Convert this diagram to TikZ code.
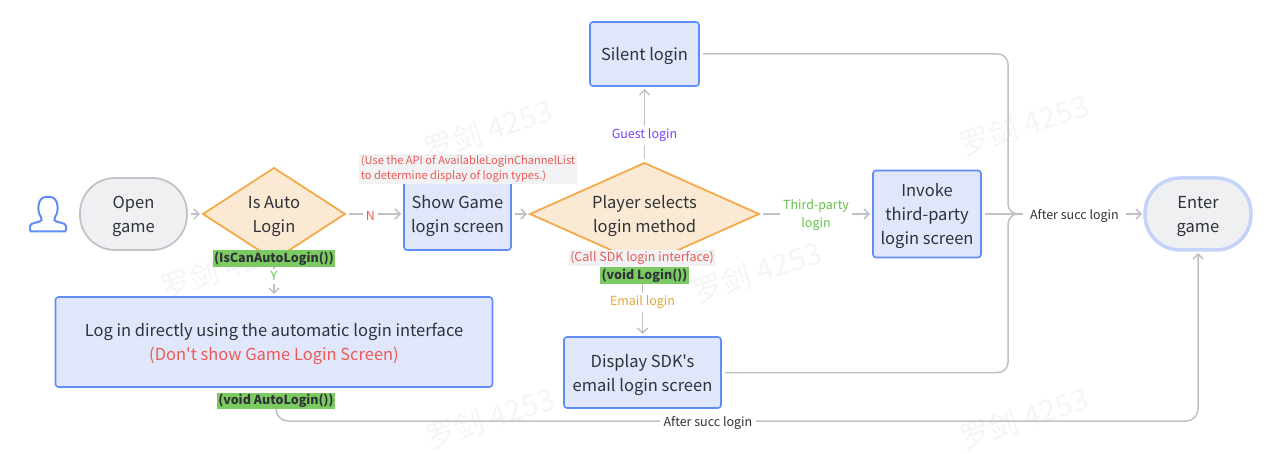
\documentclass[tikz,border=0pt]{standalone}
\usepackage{xcolor}
\usepackage{fontspec}
\setmainfont[Ligatures=TeXOff]{Noto Sans CJK SC}
\usepackage{tikz}
\usetikzlibrary{shapes.geometric, arrows.meta, positioning}

\definecolor{boxfill}{HTML}{E1E7FB}
\definecolor{boxdraw}{HTML}{5F8CF5}
\definecolor{choicefill}{HTML}{FBEAD3}
\definecolor{choicedraw}{HTML}{F5A94A}
\definecolor{endfill}{HTML}{EFF0F2}
\definecolor{enddraw}{HTML}{C1C3C8}
\definecolor{enterdraw}{HTML}{C5D3FB}
\definecolor{linegray}{HTML}{BFC1C6}
\definecolor{notered}{HTML}{EB5A55}
\definecolor{notegray}{HTML}{F1F2F4}
\definecolor{funcgreen}{HTML}{7CCB62}
\definecolor{inkdark}{HTML}{2F3238}
\definecolor{markgray}{HTML}{F4F5F6}
\definecolor{guestpurple}{HTML}{7A45F0}
\definecolor{thirdgreen}{HTML}{62C446}
\definecolor{emailgold}{HTML}{E0A83C}

\begin{document}
\begin{tikzpicture}[
    x=1pt, y=-1pt,
    text=inkdark,
    shapetext/.style={align=flush center, inner sep=0pt, outer sep=0pt, font=\fontsize{16.5}{24}\selectfont, execute at begin node={\rule{0pt}{18pt}}, execute at end node={\rule[-3pt]{0pt}{3pt}}},
    block/.style={rectangle, draw=boxdraw, fill=boxfill, line width=1.6pt, rounded corners=3pt, text width=100pt, shapetext},
    stadium/.style={rectangle, draw=enddraw, fill=endfill, line width=1.8pt, rounded corners=35pt, text width=90pt, minimum width=107pt, minimum height=72pt, shapetext},
    choice/.style={diamond, draw=choicedraw, fill=choicefill, line width=1.8pt, shapetext},
    line/.style={draw=linegray, line width=1.5pt, shorten <=4pt, shorten >=3pt, -{Straight Barb[length=5pt, width=10pt]}},
    plainline/.style={draw=linegray, line width=1.5pt, shorten <=4pt, shorten >=4pt},
    tag/.style={fill=white, inner sep=3pt, yshift=-1.5pt, font=\fontsize{12.5}{18}\selectfont, align=center},
    afterlabel/.style={font=\fontsize{12.5}{15}\selectfont, execute at begin node={\rule{0pt}{14pt}}},
    note/.style={fill=notegray, text=notered, inner sep=1.5pt, font=\fontsize{11.1}{15.5}\selectfont, align=left},
    func/.style={fill=funcgreen, text=inkdark, inner sep=1.5pt, font=\fontsize{12.5}{15}\selectfont\bfseries},
    watermark/.style={text=markgray, rotate=18, font=\fontsize{30}{30}\selectfont}
]
    \useasboundingbox (0,0) rectangle (1288,454);
    \foreach \mx/\my in {488/130, 1024/125, 225/268, 757/272, 490/418, 1024/418}
        \node [watermark] (mark\mx\my) at (\mx,\my) {罗剑 4253};

    \node [stadium] (open) at (133.5,214) {Open\\game};
    \node [choice, text width=62pt, aspect=1.54, minimum width=142pt, minimum height=92pt, right=16pt of open] (isauto) {Is Auto\\Login};
    \node [block, minimum width=107pt, minimum height=72pt, right=59pt of isauto] (show) {Show Game\\login screen};
    \node [choice, text width=120pt, aspect=2.25, minimum width=229pt, minimum height=102pt, right=19pt of show] (player) {Player selects\\login method};
    \node [block, minimum width=109pt, minimum height=64pt, above=77pt of player] (silent) {Silent login};
    \node [block, minimum width=108pt, minimum height=87pt, right=114pt of player] (invoke) {Invoke\\third-party\\login screen};
    \node [block, text width=150pt, minimum width=157pt, minimum height=71pt, below=72pt of player, xshift=-2pt] (email) {Display SDK's\\email login screen};
    \node [block, text width=430pt, minimum width=437pt, minimum height=90pt, below=37pt of isauto] (direct) {Log in directly using the automatic login interface\\{\color{notered}(Don't show Game Login Screen)}};
    \node [stadium, draw=enterdraw, line width=3.5pt, minimum width=106pt, minimum height=72pt, right=164pt of invoke] (enter) {Enter\\game};

    \draw [boxdraw, line width=2pt, rounded corners=2pt] (33,231.5) .. controls (30,231.5) and (30,230) .. (30,228) .. controls (30,222) and (41,223) .. (42,218) .. controls (37,212) and (37,197) .. (48,197) .. controls (59,197) and (59,212) .. (54,218) .. controls (55,223) and (66,222) .. (66,228) .. controls (66,230) and (66,231.5) .. (63,231.5) -- cycle;

    \coordinate (merge) at (1008,214);
    \node [afterlabel] (after) at (1074.5,214) {After succ login};
    \node [func] (autofunc) at (276,401) {(void AutoLogin())};

    \path [line] (open) -- (isauto);
    \path [line] (isauto) -- (show) node [tag, text=notered, pos=0.43] {N};
    \path [line] (show) -- (player);
    \path [line] (player) -- (silent) node [tag, text=guestpurple, pos=0.38] {Guest login};
    \path [line] (player) -- (invoke) node [tag, text=thirdgreen, pos=0.5] {Third-party\\login};
    \path [line] (email.north |- player.south) -- (email.north) node [tag, text=emailgold, pos=0.5] {Email login};
    \path [line] (isauto) -- (direct) node [tag, text=thirdgreen, pos=0.4] {Y};
    \path [plainline] (invoke) -- (after);
    \path [plainline, rounded corners=10pt] (silent) -| (merge) -- (after);
    \path [plainline, rounded corners=10pt] (email) -| (merge) -- (after);
    \path [line] (after) -- (enter);
    \path [line, shorten <=0pt, rounded corners=12pt] (autofunc.south) |- (708,421) -| (enter.south);
    \node [afterlabel, fill=white] (aftertwo) at (708,421) {After succ login};

    \node [note] (apinote) at (468,169) {(Use the API of AvailableLoginChannelList\\to determine display of login types.)};
    \node [func] (canfunc) at (274,258.5) {(IsCanAutoLogin())};
    \node [note, font=\fontsize{12.5}{15}\selectfont] (sdknote) at (642,258) {(Call SDK login interface)};
    \node [func] (loginfunc) at (644.5,275.5) {(void Login())};
\end{tikzpicture}
\end{document}
